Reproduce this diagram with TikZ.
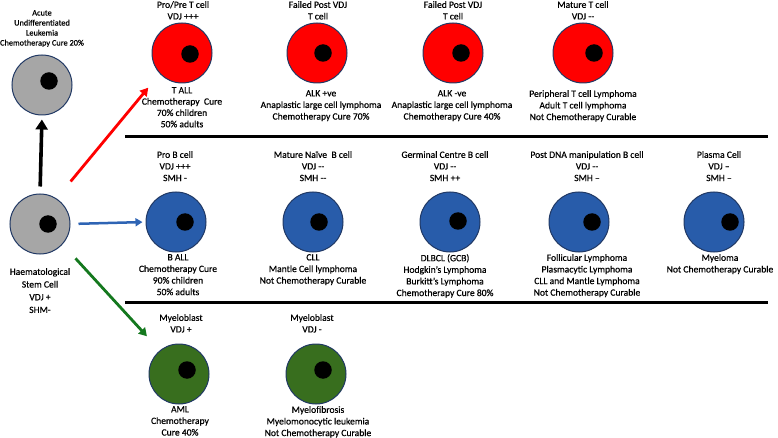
\documentclass[tikz,border=0pt]{standalone}
\usepackage{fontspec}
\setmainfont{Carlito}[UprightFeatures={FakeBold=0.5}]
\usetikzlibrary{arrows.meta}
\definecolor{cellred}{RGB}{255,0,0}
\definecolor{cellblue}{RGB}{40,92,170}
\definecolor{cellgreen}{RGB}{56,110,30}
\definecolor{cellgray}{RGB}{166,166,166}
\definecolor{rim}{RGB}{32,56,100}
\definecolor{arrred}{RGB}{255,0,0}
\definecolor{arrblue}{RGB}{46,100,180}
\definecolor{arrgreen}{RGB}{20,120,30}
\begin{document}
\begin{tikzpicture}[x=1pt,y=-1pt,
  cell/.style={circle,draw=rim,line width=1pt,minimum size=60pt,inner sep=0pt},
  nucleus/.style={circle,fill=black,minimum size=17.5pt,inner sep=0pt},
  lbl/.style={align=center,inner sep=0pt,anchor=north,font=\fontsize{9.6}{11.6}\selectfont},
  sep/.style={line width=3pt,black},
  arr/.style={line width=2.6pt}]
\useasboundingbox (0,0) rectangle (778,438);

% ---------- left column ----------
\node[cell,fill=cellgray] (aul) at (42,85) {};
\node[nucleus] (aulN) at (49,81) {};
\node[lbl,font=\fontsize{8.3}{10}\selectfont] (aulT) at (42,10) {Acute\\Undifferentiated\\Leukemia\\Chemotherapy Cure 20\%};

\node[cell,fill=cellgray] (stem) at (40,224) {};
\node[nucleus] (stemN) at (48,224) {};
\node[lbl,font=\fontsize{9.6}{12.7}\selectfont] (stemT) at (40,268) {Haematological\\Stem Cell\\VDJ +\\SHM-};

% ---------- T cell row ----------
\node[cell,fill=cellred] (proT) at (182,53) {};
\node[nucleus] (proTN) at (190,54) {};
\node[lbl] (proTt) at (183,1) {Pro/Pre T cell\\VDJ +++};
\node[lbl,font=\fontsize{9.6}{11.3}\selectfont] (proTb) at (182,87) {T ALL\\Chemotherapy\ \ Cure\\70\% children\\50\% adults};

\node[cell,fill=cellred] (failA) at (317,53) {};
\node[nucleus] (failAN) at (323,53) {};
\node[lbl] (failAt) at (318,1) {Failed Post VDJ\\T cell};
\node[lbl] (failAb) at (321,90) {ALK +ve\\Anaplastic large cell lymphoma\\Chemotherapy Cure 70\%};

\node[cell,fill=cellred] (failB) at (453,53) {};
\node[nucleus] (failBN) at (461,53) {};
\node[lbl] (failBt) at (453,1) {Failed Post VDJ\\T cell};
\node[lbl] (failBb) at (452,90) {ALK -ve\\Anaplastic large cell lymphoma\\Chemotherapy Cure 40\%};

\node[cell,fill=cellred] (matT) at (583,53) {};
\node[nucleus] (matTN) at (594,53) {};
\node[lbl] (matTt) at (583,1) {Mature T cell\\VDJ -{}-};
\node[lbl] (matTb) at (583,90) {Peripheral T cell Lymphoma\\Adult T cell lymphoma\\Not Chemotherapy Curable};

% ---------- B cell row ----------
\node[cell,fill=cellblue] (proB) at (176,222) {};
\node[nucleus] (proBN) at (185,222) {};
\node[lbl] (proBt) at (175,151) {Pro B cell\\VDJ +++\\SMH -};
\node[lbl] (proBb) at (178,254) {B ALL\\Chemotherapy Cure\\90\% children\\50\% adults};

\node[cell,fill=cellblue] (naive) at (313,222) {};
\node[nucleus] (naiveN) at (319,222) {};
\node[lbl] (naivet) at (313,151) {Mature Naïve\ \ B cell\\VDJ -{}-\\SMH -{}-};
\node[lbl] (naiveb) at (313,254) {CLL\\Mantle Cell lymphoma\\Not Chemotherapy Curable};

\node[cell,fill=cellblue] (germ) at (450,222) {};
\node[nucleus] (germN) at (458,221) {};
\node[lbl] (germt) at (445,151) {Germinal Centre B cell\\VDJ -{}-\\SMH ++};
\node[lbl] (germb) at (445,254) {DLBCL (GCB)\\Hodgkin’s Lymphoma\\Burkitt’s Lymphoma\\Chemotherapy Cure 80\%};

\node[cell,fill=cellblue] (post) at (579,222) {};
\node[nucleus] (postN) at (592,222) {};
\node[lbl] (postt) at (587,151) {Post DNA manipulation B cell\\VDJ -{}-\\SMH --};
\node[lbl] (postb) at (587,254) {Follicular Lymphoma\\Plasmacytic Lymphoma\\CLL and Mantle Lymphoma\\Not Chemotherapy Curable};

\node[cell,fill=cellblue] (plasma) at (714,222) {};
\node[nucleus] (plasmaN) at (730,222) {};
\node[lbl] (plasmat) at (719,151) {Plasma Cell\\VDJ --\\SMH --};
\node[lbl] (plasmab) at (720,254) {Myeloma\\Not Chemotherapy Curable};

% ---------- myeloid row ----------
\node[cell,fill=cellgreen] (myeA) at (179,374) {};
\node[nucleus] (myeAN) at (187,370) {};
\node[lbl] (myeAt) at (181,314) {Myeloblast\\VDJ +};
\node[lbl] (myeAb) at (180,406) {AML\\Chemotherapy\\Cure 40\%};

\node[cell,fill=cellgreen] (myeB) at (316,374) {};
\node[nucleus] (myeBN) at (323,370) {};
\node[lbl] (myeBt) at (312,314) {Myeloblast\\VDJ -};
\node[lbl] (myeBb) at (318,406) {Myelofibrosis\\Myelomonocytic leukemia\\Not Chemotherapy Curable};

% ---------- separators ----------
\draw[sep] (125,137) -- (768,137);
\draw[sep] (125,302) -- (768,302);

% ---------- arrows ----------
\draw[arr,black,line width=3.6pt,-{Triangle[length=10pt,width=12pt]},shorten <=7pt,shorten >=4pt] (stem.north) -- (aul.south);
\draw[arr,arrred,line width=2.8pt,-{Triangle[length=8pt,width=9pt]},shorten <=22pt,shorten >=18pt] (stem.57) -- (proT.223);
\draw[arr,arrblue,line width=2.5pt,-{Triangle[length=7pt,width=8pt]},shorten <=8pt,shorten >=3pt] (stem.east) -- (proB.west);
\draw[arr,arrgreen,line width=2.8pt,-{Triangle[length=8pt,width=9pt]},shorten <=19pt,shorten >=19pt] (stem.-42) -- (myeA.129);
\end{tikzpicture}
\end{document}
